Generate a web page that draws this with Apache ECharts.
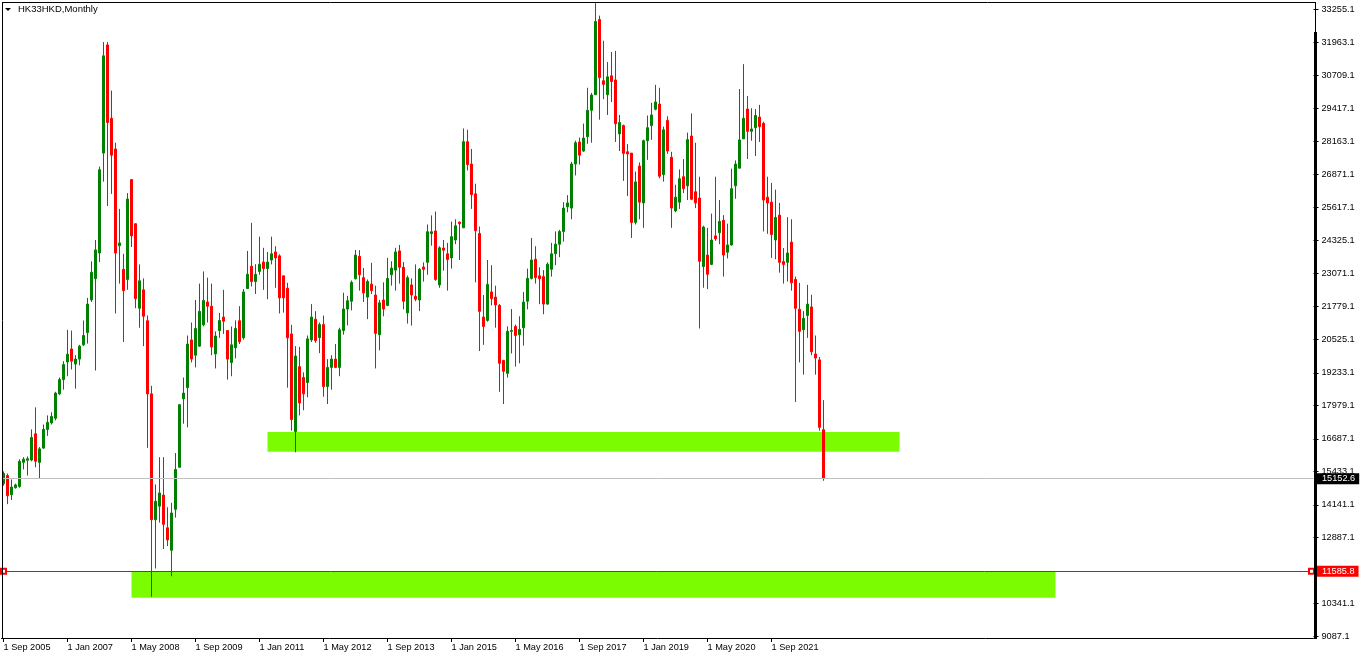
<!DOCTYPE html>
<html>
<head>
<meta charset="utf-8">
<script src="https://cdn.jsdelivr.net/npm/echarts@6/dist/echarts.min.js"></script>
<style>
html,body{margin:0;padding:0;background:#fff;}
#chart{width:1362px;height:660px;}
</style>
</head>
<body>
<div id="chart"></div>
<script>
// ---- data (monthly candles, Sep 2005 .. Oct 2022) ----
const opens = [14960,15270,14530,14800,14850,15780,15860,15870,16880,15780,16330,17050,17300,17480,18420,18970,19650,20150,19570,19760,20310,20780,22040,22860,23850,27700,31870,29040,27860,24130,23220,22830,26680,24980,21720,22430,21240,18420,13570,14090,14520,13260,12390,13970,15590,18230,18660,20500,19910,20260,21080,21960,21800,19960,20860,21380,20860,19630,20200,21240,20580,22480,23340,22750,23140,23500,23250,23580,23890,23740,22970,22490,20730,16970,19470,19050,18860,20500,21300,20590,21090,18700,19440,19760,19440,20860,21690,21990,22860,23720,22900,22150,22650,22230,20700,22040,21830,23010,23190,23930,23300,21540,22620,22180,22040,23310,23490,24600,24700,22620,24040,23820,23660,24350,25040,24820,28140,27280,26130,24600,21380,21250,22350,22150,21830,19710,19210,20830,21020,20700,20970,21990,22870,23610,22970,22940,21880,23220,23820,24190,24680,25630,25580,27280,28130,27780,28330,29350,29950,32850,30490,29950,30680,30520,28440,28760,27750,27700,25030,27200,25780,28180,28760,29390,29590,26870,28960,27540,25470,25810,26790,26440,28360,26210,25970,23330,23770,23410,24510,24630,25110,23880,24160,26440,27120,28250,29400,28540,28680,29090,28850,26000,25810,24350,25310,23520,23490,24270,22830,21680,20890,21440,21770,19960,19730,17040];
const closes = [15350,14490,14830,14910,15820,15900,15920,16740,15820,16300,17050,17320,17550,18450,18970,19550,19950,19680,19760,20260,20670,21880,23110,23970,27060,31450,28880,27620,23850,24240,22400,25930,24510,22090,22780,21410,18420,13570,14280,14600,13390,12790,13830,15510,18000,18450,20340,19760,20940,21600,22020,21800,20230,20650,21250,21220,19760,20310,20940,20430,22350,23030,22750,23030,23420,23250,23500,23820,23660,22120,22120,20580,17430,19880,18070,18420,20540,21380,20470,21090,18700,19440,19760,19440,20890,21690,22010,22720,23770,23010,22310,22750,22400,20750,21930,21690,22870,23270,23890,23300,21990,22900,22230,22070,23220,23220,24670,24670,22830,24050,23960,23600,24480,24900,24980,28140,27260,26100,24710,21600,21020,22640,22090,21850,19600,19290,20830,20860,20670,20910,21960,22870,23580,22900,22860,21880,23420,23820,24190,24680,25580,25780,27280,28100,27620,28280,29350,29940,32770,30610,30350,30640,30460,28830,28880,27690,27670,25030,26590,25810,28180,28680,29170,29670,26810,28600,27780,25580,26000,26710,26330,28220,25920,25780,23530,24850,23030,24350,24400,25070,23770,24160,26330,27280,28210,29040,28540,28630,29150,28720,25890,25780,24560,25220,23490,23410,23850,22700,21720,20830,21330,21880,20040,19800,17130,15152.6];
const lows = [14880,14170,14330,14770,14800,15510,15270,15820,15590,15160,16300,16800,17240,17400,18370,18580,19100,19360,18620,19520,20260,20360,21960,19320,23500,26600,25660,26130,21520,22670,20420,22430,24080,21720,20970,20260,16340,10600,11690,13460,12440,12550,11390,13650,15590,17270,17130,19630,19440,20230,21020,21170,19910,19400,20580,20730,18970,19100,19790,20340,20510,22480,22560,22270,23010,22430,22070,23410,22510,21520,21550,18660,17000,16170,17590,17790,18290,20420,20390,19990,18310,18030,18580,19410,19100,20700,21060,21640,22830,22400,21960,21300,22270,19400,20100,21410,21800,22590,22400,22670,21680,21130,21050,21990,21610,22750,23010,24130,22780,22510,23170,22400,23250,24190,23580,24820,27030,25550,22720,20070,20310,21200,21830,20970,18500,18030,19050,19980,19470,19600,20280,21680,22830,22670,21880,21490,21850,22940,23380,23690,24290,25420,25150,26840,27260,27750,28060,28100,29950,28990,29780,29170,29670,28130,27780,26630,26050,24430,24950,25150,24820,27440,28210,29350,26730,26600,27670,24820,25420,25550,26160,25890,25890,25580,20940,22510,22460,23380,24320,24190,22940,23640,24130,25940,27120,28250,27470,28180,27590,28130,24680,24590,23660,23610,23090,22670,22750,22400,18110,19630,19160,20580,19910,19160,17000,15070];
const highs = [15430,15350,15120,14960,15900,15980,16010,17050,17900,16370,17240,17590,17710,18500,19050,19680,20890,20860,19910,20310,21250,22120,23530,24350,27180,31980,31980,30110,28100,25550,23820,26160,26680,24980,23410,22870,21440,18730,14930,15980,15980,14050,14220,16140,18030,19050,20670,21170,22040,22670,23140,22900,22670,20830,21540,22430,20860,21020,21250,21800,22460,23930,25010,23420,24480,24050,23890,24480,24110,23800,22970,22700,21080,20260,20230,19250,20670,21880,21610,21170,21440,19760,19910,20340,20970,22320,22200,22790,23970,23960,23270,22830,23470,22590,22040,22720,23660,23530,24050,24160,23500,22980,22870,23410,23270,23490,24950,25300,25450,24110,24350,24240,25060,25150,25070,28650,28600,27860,26520,24870,22230,23580,23380,22590,21880,19730,21020,21690,21090,21410,22350,23250,24430,24110,23300,23190,23490,24240,24680,24740,25810,26080,27360,28180,28300,28840,30220,30020,33480,33000,32030,31210,31600,31640,29170,28800,28050,27700,26990,27340,28220,29150,29640,30330,30220,28720,29120,27750,26480,27070,27470,28490,29230,28100,26790,24900,24820,25370,26790,25890,25310,24980,27100,27420,30170,31130,29900,29430,29400,29560,28910,26790,26550,26290,25780,24040,25230,25150,22940,22700,21610,22620,22240,20670,19840,18180];

const yTickValues = [33255.1,31963.1,30709.1,29417.1,28163.1,26871.1,25617.1,24325.1,23071.1,21779.1,20525.1,19233.1,17979.1,16687.1,15433.1,14141.1,12887.1,10341.1,9087.1];
const xTickLabels = ['1 Sep 2005','1 Jan 2007','1 May 2008','1 Sep 2009','1 Jan 2011','1 May 2012','1 Sep 2013','1 Jan 2015','1 May 2016','1 Sep 2017','1 Jan 2019','1 May 2020','1 Sep 2021'];

const bidPrice = 15152.6;
const levelPrice = 11585.8;
const upperZone = ['1 Mar 2011', '1 May 2024', 16950, 16190];
const lowerZone = ['1 May 2008', '1 Aug 2027', 11586, 10560];
const yMin = 9009.7, yMax = 33486.4;

// month categories (206 candles + empty space to the right, one slot per month)
const monthNames = ['Jan','Feb','Mar','Apr','May','Jun','Jul','Aug','Sep','Oct','Nov','Dec'];
const totalSlots = 328;
const categories = [];
for (let i = 0; i < totalSlots; i++) {
  const m = (8 + i) % 12;
  const y = 2005 + Math.floor((8 + i) / 12);
  categories.push('1 ' + monthNames[m] + ' ' + y);
}
const candleData = opens.map((o, i) => [o, closes[i], lows[i], highs[i]]);

const FONT = '"Liberation Sans", Arial, sans-serif';
const chart = echarts.init(document.getElementById('chart'), null, {renderer: 'canvas'});
const showTick = (idx, val) => xTickLabels.indexOf(val) >= 0;

chart.setOption({
  animation: false,
  backgroundColor: '#ffffff',
  grid: {left: 1.5, top: 3, width: 1312, height: 635, containLabel: false},
  xAxis: {
    type: 'category',
    data: categories,
    boundaryGap: true,
    axisLine: {show: true, lineStyle: {color: '#000', width: 1}},
    axisTick: {show: true, alignWithLabel: true, length: 4, interval: showTick, lineStyle: {color: '#000'}},
    axisLabel: {
      show: true, interval: showTick, align: 'left', margin: 5,
      fontSize: 9.2, fontFamily: FONT, color: '#000',
      hideOverlap: false
    },
    splitLine: {show: false}
  },
  yAxis: {
    type: 'value',
    position: 'right',
    min: yMin, max: yMax,
    axisLine: {show: false},
    splitLine: {show: false},
    axisTick: {show: true, length: 5, customValues: yTickValues, lineStyle: {color: '#000'}},
    axisLabel: {
      show: true, margin: 8, customValues: yTickValues,
      formatter: v => Number(v).toFixed(1),
      fontSize: 9.2, fontFamily: FONT, color: '#000'
    }
  },
  series: [
    {
      type: 'line',
      data: [],
      z: 1,
      silent: true,
      markArea: {
        silent: true,
        itemStyle: {color: '#7CFC00', opacity: 1},
        data: [
          [{xAxis: upperZone[0], yAxis: upperZone[2]}, {xAxis: upperZone[1], yAxis: upperZone[3]}],
          [{xAxis: lowerZone[0], yAxis: lowerZone[2]}, {xAxis: lowerZone[1], yAxis: lowerZone[3]}]
        ]
      }
    },
    {
      type: 'candlestick',
      data: candleData,
      z: 2,
      barWidth: 2,
      silent: true,
      itemStyle: {
        color: '#008000', color0: '#ff0000',
        borderColor: '#008000', borderColor0: '#ff0000',
        borderWidth: 1
      },
      markLine: {
        silent: true,
        symbol: 'none',
        animation: false,
        lineStyle: {color: '#c0c0c0', width: 1, type: 'solid'},
        label: {
          show: true, position: 'end', distance: 3.5,
          formatter: String(bidPrice),
          color: '#fff', backgroundColor: '#000',
          padding: [1, 4, 0, 5], fontSize: 9.2, lineHeight: 10, fontFamily: FONT
        },
        data: [{yAxis: bidPrice}]
      }
    },
    {
      type: 'line',
      data: [],
      z: 3,
      silent: true,
      markLine: {
        silent: true,
        symbol: ['emptyRect', 'emptyRect'],
        symbolSize: 5,
        animation: false,
        lineStyle: {color: '#ff0000', width: 1, type: 'solid'},
        label: {
          show: true, position: 'end', distance: 5.5,
          formatter: String(levelPrice),
          color: '#fff', backgroundColor: '#ff0000',
          padding: [1, 4, 0, 5], fontSize: 9.2, lineHeight: 10, fontFamily: FONT
        },
        data: [[{xAxis: categories[0], yAxis: levelPrice}, {xAxis: categories[totalSlots - 1], yAxis: levelPrice}]]
      }
    }
  ],
  graphic: [
    {type: 'line', z: 100, silent: true, shape: {x1: 2, y1: 2.5, x2: 1316, y2: 2.5}, style: {stroke: '#000', lineWidth: 1}},
    {type: 'line', z: 100, silent: true, shape: {x1: 2.5, y1: 2, x2: 2.5, y2: 639}, style: {stroke: '#000', lineWidth: 1}},
    {type: 'line', z: 100, silent: true, shape: {x1: 1315.5, y1: 2, x2: 1315.5, y2: 32}, style: {stroke: '#000', lineWidth: 1}},
    {type: 'rect', z: 100, silent: true, shape: {x: 1314, y: 32, width: 3, height: 607}, style: {fill: '#000'}},
    {type: 'polygon', z: 100, silent: true, shape: {points: [[5, 8], [11, 8], [8, 11]]}, style: {fill: '#000'}},
    {type: 'text', z: 100, silent: true, left: 18, top: 4,
      style: {text: 'HK33HKD,Monthly', fontSize: 9.5, fontFamily: FONT, fill: '#000'}}
  ]
});
</script>
</body>
</html>
